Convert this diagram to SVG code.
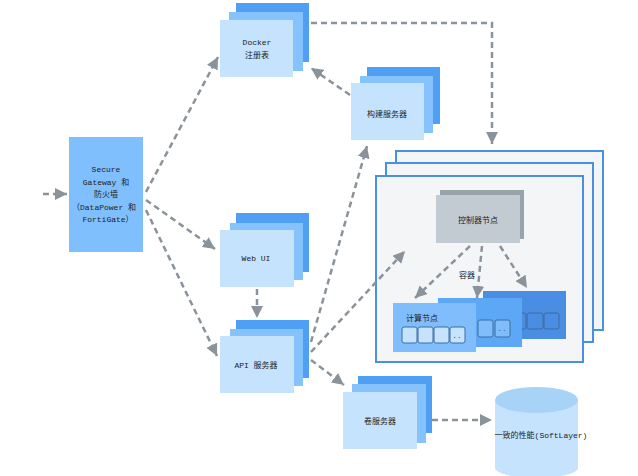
<svg xmlns="http://www.w3.org/2000/svg" width="638" height="476" viewBox="0 0 638 476">
<defs>
<style>
.t{font-family:"Liberation Mono","Noto Sans CJK SC",monospace;font-size:8px;fill:#222;text-anchor:middle}
.b{fill:#4f9ff5}
.m{fill:#86c2fc}
.f{fill:#c5e3fd}
.c{fill:none;stroke:#8a939b;stroke-width:2.5;stroke-dasharray:6 4;marker-end:url(#ah)}
.panel{fill:#f4f5f7;stroke:#4a90e2;stroke-width:2}
.cell{stroke:#3d6d9e;stroke-width:1}
</style>
<marker id="ah" markerUnits="userSpaceOnUse" markerWidth="12" markerHeight="12" refX="10" refY="5" orient="auto" viewBox="0 0 10 10">
<path d="M0,0 L10,5 L0,10 z" fill="#8a939b"/>
</marker>
</defs>
<rect width="638" height="476" fill="#fff"/>

<g id="gateway">
<rect x="69" y="137" width="74" height="115" fill="#80bffd"/>
<text class="t" x="106" y="172">Secure</text>
<text class="t" x="106" y="185">Gateway 和</text>
<text class="t" x="106" y="197">防火墙</text>
<text class="t" x="104" y="210">（DataPower 和</text>
<text class="t" x="108" y="222">FortiGate）</text>
</g>

<g id="docker">
<rect class="b" x="236" y="3" width="73" height="59"/>
<rect class="m" x="229" y="12" width="74" height="59"/>
<rect class="f" x="220" y="20" width="73" height="57"/>
<text class="t" x="257" y="45">Docker</text>
<text class="t" x="257" y="58">注册表</text>
</g>

<g id="build">
<rect class="b" x="367" y="67" width="73" height="57"/>
<rect class="m" x="360" y="76" width="73" height="57"/>
<rect class="f" x="351" y="83" width="73" height="57"/>
<text class="t" x="387" y="117">构建服务器</text>
</g>

<g id="webui">
<rect class="b" x="236" y="213" width="73" height="59"/>
<rect class="m" x="230" y="223" width="73" height="57"/>
<rect class="f" x="220" y="230" width="74" height="57"/>
<text class="t" x="256" y="261">Web UI</text>
</g>

<g id="api">
<rect class="b" x="236" y="320" width="73" height="58"/>
<rect class="m" x="230" y="329" width="73" height="57"/>
<rect class="f" x="220" y="336" width="74" height="57"/>
<text class="t" x="256" y="368">API 服务器</text>
</g>

<g id="volume">
<rect class="b" x="358" y="376" width="74" height="57"/>
<rect class="m" x="352" y="384" width="74" height="59"/>
<rect class="f" x="343" y="392" width="74" height="57"/>
<text class="t" x="380" y="424">卷服务器</text>
</g>

<g id="storage">
<path d="M495,400 L495,468 A41.5,10 0 0 0 578,468 L578,400 Z" fill="#c5e3fd"/>
<ellipse cx="536.5" cy="400" rx="41.5" ry="13" fill="#a7d3f7"/>
<text class="t" x="541" y="438">一致的性能(SoftLayer)</text>
</g>

<g id="cluster">
<rect class="panel" x="396" y="151" width="207" height="179"/>
<rect class="panel" x="386" y="163" width="207" height="179"/>
<rect class="panel" x="376" y="176" width="207" height="186"/>
</g>

<g id="controller">
<rect x="440" y="190" width="84" height="49" fill="#99a3ac"/>
<rect x="436" y="195" width="84" height="48" fill="#c3cbd2"/>
<text class="t" x="478" y="223">控制器节点</text>
</g>

<text class="t" x="467" y="278">容器</text>

<g id="compute3">
<rect x="483" y="291" width="83" height="48" fill="#4a8ee3"/>
<rect class="cell" x="511" y="313" width="15" height="16" rx="2" fill="#4a8ee3"/>
<rect class="cell" x="527" y="313" width="16" height="16" rx="2" fill="#4a8ee3"/>
<rect class="cell" x="544" y="313" width="15" height="16" rx="2" fill="#4a8ee3"/>
</g>
<g id="compute2">
<rect x="438" y="298" width="84" height="49" fill="#5ca8f6"/>
<rect class="cell" x="478" y="320" width="15" height="17" rx="2" fill="#80bdfc"/>
<rect class="cell" x="495" y="320" width="15" height="17" rx="2" fill="#80bdfc"/>
<text class="t" x="502" y="331" style="fill:#555">..</text>
</g>
<g id="compute1">
<rect x="393" y="303" width="83" height="49" fill="#80bdfc"/>
<text class="t" x="422" y="321">计算节点</text>
<rect class="cell" x="402" y="327" width="15" height="16" rx="2" fill="#c5e3fd"/>
<rect class="cell" x="418" y="327" width="15" height="16" rx="2" fill="#c5e3fd"/>
<rect class="cell" x="434" y="327" width="15" height="16" rx="2" fill="#c5e3fd"/>
<rect class="cell" x="450" y="327" width="15" height="16" rx="2" fill="#c5e3fd"/>
<text class="t" x="457" y="338" style="fill:#555">..</text>
</g>

<g id="connectors">
<path class="c" d="M43,194 L67,194"/>
<path class="c" d="M146,192 L218,57"/>
<path class="c" d="M146,200 L215,249"/>
<path class="c" d="M146,210 L217,356"/>
<path class="c" d="M311,23 L492,23 L492,144"/>
<path class="c" d="M350,95 L311,68"/>
<path class="c" d="M257,289 L257,318"/>
<path class="c" d="M311,342 L367,146"/>
<path class="c" d="M311,352 L405,251"/>
<path class="c" d="M311,360 L344,385"/>
<path class="c" d="M432,420 L492,420"/>
<path class="c" d="M470,246 L415,298"/>
<path class="c" d="M482,246 L477,298"/>
<path class="c" d="M500,246 L527,288"/>
</g>
</svg>
